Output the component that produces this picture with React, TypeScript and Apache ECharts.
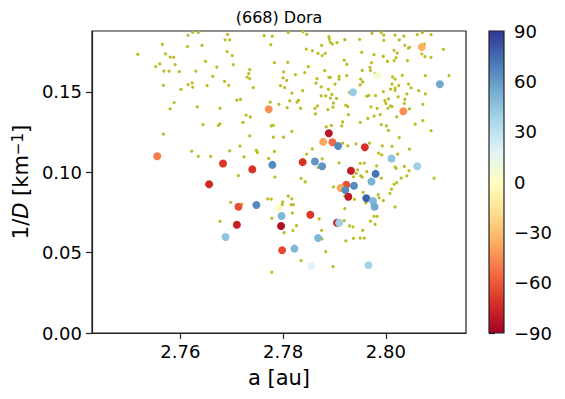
import React, { useEffect, useRef } from "react";
import * as echarts from "echarts";

// RdYlBu colormap (low = red, high = blue)
const RDYLBU = ["#a50026", "#d73027", "#f46d43", "#fdae61", "#fee090", "#ffffbf", "#e0f3f8", "#abd9e9", "#74add1", "#4575b4", "#313695"];

// background population (a [au], 1/D [km^-1])
const bgA = [
  2.7517, 2.7565, 2.7571, 2.758, 2.7587, 2.756, 2.7552, 2.759, 2.7568, 2.7578,
  2.7598, 2.7567, 2.7601, 2.7588, 2.758, 2.7567, 2.7615, 2.7624, 2.7635, 2.7657,
  2.7614, 2.7642, 2.7687, 2.7692, 2.7696, 2.7691, 2.7701, 2.7649, 2.7703, 2.7671,
  2.763, 2.7663, 2.7686, 2.7694, 2.7615, 2.7623, 2.7624, 2.7652, 2.7735, 2.7733,
  2.773, 2.7735, 2.7742, 2.771, 2.7717, 2.7633, 2.7677, 2.7728, 2.7736, 2.7722,
  2.7677, 2.7674, 2.7644, 2.7735, 2.7622, 2.7635, 2.7659, 2.7696, 2.7716, 2.7748,
  2.775, 2.7724, 2.7713, 2.7772, 2.7763, 2.7779, 2.7776, 2.781, 2.7839, 2.7846,
  2.7845, 2.7783, 2.7809, 2.7801, 2.7824, 2.7842, 2.7849, 2.78, 2.7807, 2.7795,
  2.7803, 2.7817, 2.7838, 2.7775, 2.7792, 2.7813, 2.7827, 2.783, 2.7808, 2.7834,
  2.7777, 2.7781, 2.7817, 2.7781, 2.7801, 2.7889, 2.789, 2.7892, 2.7896, 2.7905,
  2.792, 2.7949, 2.7973, 2.7991, 2.7996, 2.7996, 2.8018, 2.8026, 2.8035, 2.8037,
  2.8044, 2.8046, 2.8061, 2.8071, 2.8075, 2.8088, 2.8112, 2.7875, 2.7857, 2.7868,
  2.7882, 2.7876, 2.7953, 2.7977, 2.7995, 2.8016, 2.8022, 2.802, 2.8016, 2.8003,
  2.8042, 2.807, 2.8076, 2.8088, 2.7919, 2.7924, 2.7972, 2.7969, 2.797, 2.7954,
  2.7881, 2.7866, 2.7889, 2.7892, 2.7909, 2.7909, 2.7924, 2.7951, 2.7955, 2.7979,
  2.8013, 2.8018, 2.8032, 2.8077, 2.8123, 2.7864, 2.7874, 2.7888, 2.7901, 2.795,
  2.8012, 2.8025, 2.8044, 2.8009, 2.8018, 2.8018, 2.8049, 2.8064, 2.7995, 2.8041,
  2.8077, 2.7874, 2.7883, 2.7895, 2.7892, 2.7904, 2.7898, 2.7929, 2.7963, 2.7967,
  2.798, 2.8005, 2.7998, 2.8, 2.8024, 2.8037, 2.8036, 2.8072, 2.7922, 2.7926,
  2.7971, 2.7983, 2.8004, 2.8009, 2.8012, 2.7862, 2.7867, 2.7887, 2.7897, 2.7863,
  2.7927, 2.7989, 2.7977, 2.7965, 2.795, 2.7916, 2.7914, 2.7894, 2.7884, 2.7991,
  2.8001, 2.8021, 2.8046, 2.8057, 2.8072, 2.8005, 2.8088, 2.8026, 2.7857, 2.7916,
  2.7926, 2.7942, 2.7968, 2.7993, 2.8012, 2.7986, 2.7992, 2.8023, 2.8046, 2.7876,
  2.7868, 2.7909, 2.795, 2.7958, 2.7982, 2.8018, 2.802, 2.8036, 2.8045, 2.803,
  2.8041, 2.7945, 2.7942, 2.7951, 2.7954, 2.7963, 2.7937, 2.7991, 2.8016, 2.8021,
  2.8011, 2.8008, 2.7898, 2.7956, 2.7985, 2.7987, 2.7995, 2.792, 2.7939, 2.792,
  2.8018, 2.787, 2.7919, 2.7977, 2.7983, 2.797, 2.7979, 2.7929, 2.7936, 2.7955,
  2.7875, 2.7937, 2.795, 2.7958, 2.7784, 2.7835, 2.7843, 2.8094, 2.777, 2.7777,
  2.7799, 2.7798, 2.781, 2.7817, 2.7816, 2.782, 2.7818, 2.7826, 2.7819, 2.7802,
  2.7778, 2.7876, 2.7883, 2.7835, 2.7778, 2.7897, 2.7922, 2.7961, 2.7698, 2.772,
  2.7677, 2.7783, 2.7846,
];
const bgInvD = [
  0.1734, 0.1796, 0.1736, 0.1717, 0.1715, 0.1674, 0.1657, 0.167, 0.163, 0.163,
  0.1626, 0.1541, 0.1515, 0.1434, 0.1394, 0.1237, 0.1852, 0.187, 0.187, 0.1883,
  0.1782, 0.179, 0.1824, 0.1858, 0.1824, 0.1751, 0.1726, 0.169, 0.167, 0.1654,
  0.163, 0.1596, 0.1565, 0.1541, 0.1546, 0.1556, 0.1529, 0.1539, 0.1639, 0.1614,
  0.1592, 0.1583, 0.1527, 0.1449, 0.1453, 0.1407, 0.1398, 0.1355, 0.1343, 0.131,
  0.1301, 0.1291, 0.1296, 0.1226, 0.1131, 0.1099, 0.1099, 0.1133, 0.1163, 0.1136,
  0.1123, 0.1096, 0.0979, 0.1086, 0.185, 0.1847, 0.1794, 0.187, 0.1875, 0.1858,
  0.1766, 0.1682, 0.1684, 0.1624, 0.1608, 0.162, 0.1657, 0.1587, 0.1571, 0.1539,
  0.1527, 0.1492, 0.1508, 0.1436, 0.1423, 0.1444, 0.1436, 0.1448, 0.1402, 0.1397,
  0.1288, 0.1292, 0.1254, 0.1218, 0.1218, 0.1844, 0.1827, 0.1808, 0.1798, 0.1806,
  0.1825, 0.1827, 0.1864, 0.1869, 0.1854, 0.1821, 0.1854, 0.1823, 0.1847, 0.179,
  0.1773, 0.1777, 0.1856, 0.1869, 0.1798, 0.1856, 0.1765, 0.179, 0.1757, 0.174,
  0.174, 0.1726, 0.1746, 0.1732, 0.1721, 0.1759, 0.1742, 0.1713, 0.1695, 0.169,
  0.1695, 0.1736, 0.172, 0.1715, 0.1697, 0.1672, 0.1682, 0.1653, 0.1633, 0.1634,
  0.1633, 0.1583, 0.1591, 0.1591, 0.1597, 0.1579, 0.1602, 0.1579, 0.1562, 0.1616,
  0.1593, 0.158, 0.1603, 0.1602, 0.1602, 0.1554, 0.1531, 0.1516, 0.1549, 0.1543,
  0.1549, 0.1539, 0.1549, 0.1518, 0.151, 0.1523, 0.1525, 0.1508, 0.1502, 0.1487,
  0.1487, 0.1475, 0.1475, 0.1484, 0.1462, 0.1459, 0.143, 0.1496, 0.1473, 0.1479,
  0.1477, 0.1456, 0.1446, 0.1428, 0.1469, 0.1454, 0.1428, 0.1423, 0.1417, 0.1409,
  0.1407, 0.1398, 0.1398, 0.1413, 0.1409, 0.1397, 0.1413, 0.139, 0.1405, 0.1363,
  0.1359, 0.1359, 0.1349, 0.1335, 0.131, 0.1313, 0.1289, 0.1291, 0.1282, 0.1296,
  0.1289, 0.1345, 0.1394, 0.1299, 0.1322, 0.126, 0.1259, 0.1215, 0.1146, 0.1181,
  0.1164, 0.1177, 0.1181, 0.1164, 0.1161, 0.1119, 0.1108, 0.1113, 0.1144, 0.1084,
  0.103, 0.1059, 0.1055, 0.1057, 0.104, 0.1034, 0.1024, 0.1036, 0.101, 0.0964,
  0.0978, 0.1015, 0.0993, 0.0978, 0.097, 0.1004, 0.0972, 0.0963, 0.0925, 0.0935,
  0.0895, 0.0869, 0.0909, 0.0875, 0.0861, 0.0841, 0.0824, 0.0852, 0.0832, 0.0774,
  0.0784, 0.071, 0.0699, 0.0726, 0.0726, 0.0696, 0.0676, 0.0666, 0.0661, 0.0639,
  0.0639, 0.0589, 0.0591, 0.0591, 0.097, 0.0962, 0.0941, 0.0964, 0.0835, 0.0833,
  0.0815, 0.0798, 0.0851, 0.0835, 0.0798, 0.0798, 0.0746, 0.0668, 0.0637, 0.0624,
  0.0714, 0.0585, 0.0506, 0.045, 0.0378, 0.0413, 0.0573, 0.081, 0.0813, 0.0802,
  0.0695, 0.113, 0.1113,
];

// family members with colour value
const famA = [
  2.7555, 2.7772, 2.7683, 2.774, 2.7779, 2.7656, 2.7713, 2.7748, 2.771, 2.7688,
  2.807, 2.7984, 2.8105, 2.7936, 2.8034, 2.7889, 2.7878, 2.7896, 2.7907, 2.7959,
  2.8011, 2.8061, 2.7838, 2.7862, 2.7876, 2.7932, 2.798, 2.7972, 2.7923, 2.7912,
  2.7921, 2.7938, 2.7927, 2.7962, 2.7975, 2.7978, 2.7791, 2.7797, 2.7796, 2.7853,
  2.7905, 2.7909, 2.7868, 2.7798, 2.7822, 2.7855, 2.7966,
];
const famInvD = [
  0.11, 0.1392, 0.1055, 0.1018, 0.1046, 0.0925, 0.0786, 0.0796, 0.0674, 0.0597,
  0.1779, 0.1603, 0.1548, 0.1498, 0.138, 0.1243, 0.1189, 0.1187, 0.1164, 0.1156,
  0.1086, 0.1038, 0.1063, 0.1067, 0.1038, 0.1009, 0.099, 0.0943, 0.0922, 0.0902,
  0.0889, 0.0916, 0.0848, 0.0838, 0.0821, 0.0786, 0.0777, 0.0728, 0.0666, 0.0736,
  0.0686, 0.0686, 0.0591, 0.0515, 0.0525, 0.0417, 0.0422,
];
const famValue = [
  -50, -45, -70, -72, 65, -75, -62, 65, -78, 45,
  -35, 5, 55, 42, -45, -82, -38, -55, 65, -72,
  45, 40, -72, 62, 62, -80, 72, 52, -62, -38,
  65, 65, -80, 78, 50, 55, 3, 50, -85, -70,
  -80, 40, 50, -65, 50, 18, 38,
];

const xTicks = [2.76, 2.78, 2.8];
const yTicks = [0, 0.05, 0.1, 0.15];
const X_MIN = 2.7428;
const X_MAX = 2.8156;
const Y_MIN = 0;
const Y_MAX = 0.1879;
const CB_MIN = -90;
const CB_MAX = 90;

const FONT = "DejaVu Sans";
const minus = (v: number) => (v < 0 ? "\u2212" + Math.abs(v) : String(v));

export default function App() {
  const ref = useRef<HTMLDivElement>(null);
  useEffect(() => {
    if (!ref.current) return;
    const chart = echarts.init(ref.current, null, { renderer: "svg" });
    const grid0 = { left: 92, top: 31, width: 374, height: 302 };
    const grid1 = { left: 489, top: 31, width: 15, height: 302 };
    const bgData = bgA.map((a, i) => [a, bgInvD[i]]);
    const famData = famA.map((a, i) => [a, famInvD[i], famValue[i]]);
    const axisLineStyle = { color: "#222", width: 1.2 };
    chart.setOption({
      animation: false,
      backgroundColor: "#fff",
      grid: [
        { ...grid0, show: true, borderColor: "#222", borderWidth: 1.2, backgroundColor: "transparent" },
        { ...grid1, show: false },
      ],
      xAxis: [
        {
          type: "value",
          gridIndex: 0,
          min: X_MIN,
          max: X_MAX,
          splitLine: { show: false },
          axisLine: { show: true, onZero: false, lineStyle: axisLineStyle },
          axisTick: { show: true, length: 6, customValues: xTicks, lineStyle: axisLineStyle },
          axisLabel: {
            customValues: xTicks,
            formatter: (v: number) => v.toFixed(2),
            fontSize: 18,
            fontFamily: FONT,
            color: "#000",
            margin: 9,
          },
          name: "a [au]",
          nameLocation: "middle",
          nameGap: 34,
          nameTextStyle: { fontSize: 21, fontFamily: FONT, color: "#000" },
        },
        { type: "value", gridIndex: 1, min: 0, max: 1, show: false },
      ],
      yAxis: [
        {
          type: "value",
          gridIndex: 0,
          min: Y_MIN,
          max: Y_MAX,
          splitLine: { show: false },
          axisLine: { show: true, onZero: false, lineStyle: axisLineStyle },
          axisTick: { show: true, length: 6, customValues: yTicks, lineStyle: axisLineStyle },
          axisLabel: {
            customValues: yTicks,
            formatter: (v: number) => v.toFixed(2),
            fontSize: 18,
            fontFamily: FONT,
            color: "#000",
            margin: 10,
          },
          name: "{n|1/}{i|D}{n| [km}{s|\u22121}{n|]}",
          nameLocation: "middle",
          nameRotate: 90,
          nameGap: 57,
          nameTextStyle: {
            fontSize: 21,
            fontFamily: FONT,
            color: "#000",
            rich: {
              n: { fontSize: 21, fontFamily: FONT, color: "#000" },
              i: { fontSize: 21, fontFamily: FONT, color: "#000", fontStyle: "italic" },
              s: { fontSize: 15, fontFamily: FONT, color: "#000", verticalAlign: "top", padding: [0, 0, 4, 0] },
            },
          },
        },
        {
          type: "value",
          gridIndex: 1,
          position: "right",
          min: CB_MIN,
          max: CB_MAX,
          interval: 30,
          splitLine: { show: false },
          axisLine: { show: false },
          axisTick: { show: true, length: 6, lineStyle: axisLineStyle },
          axisLabel: { formatter: minus, fontSize: 18, fontFamily: FONT, color: "#000", margin: 10 },
        },
      ],
      visualMap: {
        type: "continuous",
        show: false,
        min: CB_MIN,
        max: CB_MAX,
        dimension: 2,
        seriesIndex: 1,
        inRange: { color: RDYLBU },
      },
      graphic: [
        {
          type: "rect",
          shape: { x: grid1.left, y: grid1.top, width: grid1.width, height: grid1.height },
          style: {
            fill: new echarts.graphic.LinearGradient(
              0, 0, 0, 1,
              RDYLBU.slice().reverse().map((c, i) => ({ offset: i / (RDYLBU.length - 1), color: c }))
            ),
            stroke: "#222",
            lineWidth: 1.2,
          },
          z: 10,
        },
        {
          type: "text",
          x: grid0.left + grid0.width / 2,
          y: 17,
          style: { text: "(668) Dora", fontSize: 16, fontFamily: FONT, fill: "#000", align: "center", verticalAlign: "middle" },
        },
      ],
      series: [
        {
          type: "scatter",
          xAxisIndex: 0,
          yAxisIndex: 0,
          data: bgData,
          symbolSize: 3.2,
          itemStyle: { color: "#bcbd22", opacity: 1 },
          z: 2,
          silent: true,
        },
        {
          type: "scatter",
          xAxisIndex: 0,
          yAxisIndex: 0,
          data: famData,
          symbolSize: 8,
          itemStyle: { opacity: 1 },
          z: 3,
          silent: true,
        },
      ],
    });
    return () => chart.dispose();
  }, []);
  return <div ref={ref} style={{ position: "absolute", left: 0, top: 0, width: 565, height: 399 }} />;
}
